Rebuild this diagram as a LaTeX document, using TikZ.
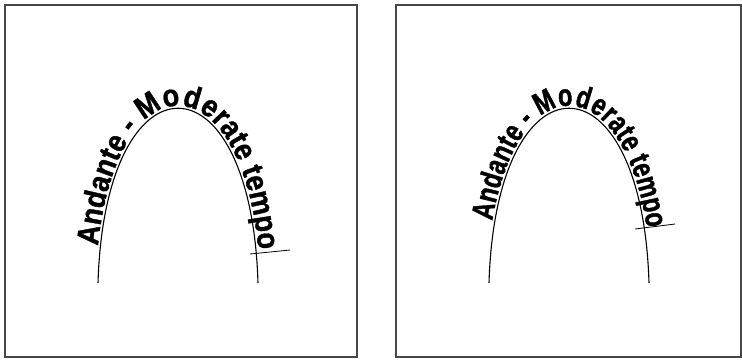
\documentclass[tikz,border=0pt]{standalone}
\usepackage{fontspec}
\setmainfont{Liberation Sans}
\newfontfamily\wideface{Liberation Sans}[UprightFont={Liberation Sans Bold},FakeStretch=0.88,FakeBold=1.2]
\newfontfamily\narrowface{Liberation Sans}[UprightFont={Liberation Sans Bold},FakeStretch=0.76,FakeBold=1.2]
\usetikzlibrary{decorations.text}
\begin{document}
\begin{tikzpicture}[x=1pt,y=-1pt,
  frame/.style={draw=black!72,line width=1.4pt},
  arch/.style={draw=black,line width=1.1pt},
  tick/.style={draw=black,line width=0.8pt}]
\useasboundingbox (0,0) rectangle (742,360);
% frames
\draw[frame] (5,5) rectangle (357,357);
\draw[frame] (396,5) rectangle (741,357);
% left arch
\coordinate (la) at (98,283);
\coordinate (lb) at (258,283);
\draw[arch] (la) .. controls (105,50) and (251,50) .. (lb);
\path[decorate,decoration={text along path,raise=2.5pt,
  text align={left indent=37pt},
  text={|\wideface\fontsize{31}{31}\selectfont|Andante - Moderate tempo}}]
  (la) .. controls (105,50) and (251,50) .. (lb);
\coordinate (lt1) at (250,254);
\coordinate (lt2) at (290,250);
\draw[tick] (lt1) -- (lt2);
% right arch
\coordinate (ra) at (489,283);
\coordinate (rb) at (649,283);
\draw[arch] (ra) .. controls (496,50) and (642,50) .. (rb);
\path[decorate,decoration={text along path,raise=2.5pt,
  text align={left indent=62pt},
  text={|\narrowface\fontsize{31}{31}\selectfont|Andante - Moderate tempo}}]
  (ra) .. controls (496,50) and (642,50) .. (rb);
\coordinate (rt1) at (635,229);
\coordinate (rt2) at (675,224);
\draw[tick] (rt1) -- (rt2);
\end{tikzpicture}
\end{document}
